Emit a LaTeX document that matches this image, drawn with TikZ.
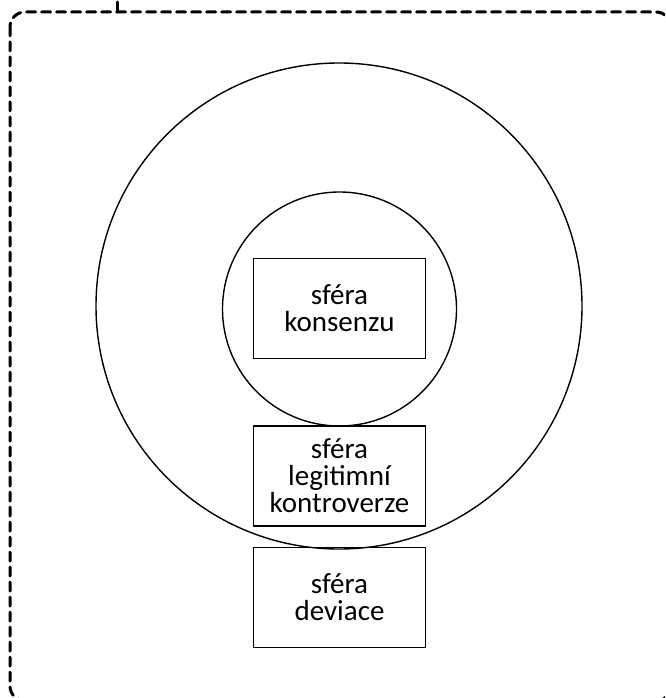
\documentclass[tikz,border=0pt]{standalone}
\usepackage{fontspec}
\setmainfont{Carlito}
\begin{document}
\begin{tikzpicture}[x=1pt,y=-1pt,
  frame/.style={line width=3pt, dash pattern=on 9pt off 6pt, line cap=round, rounded corners=15pt},
  ring/.style={circle, draw, line width=1.4pt, inner sep=0pt},
  sbox/.style={draw, line width=1.4pt, minimum width=172pt, minimum height=100pt, align=center, inner sep=0pt,
    font=\fontsize{29}{27}\selectfont}]
\clip (0,0) rectangle (665,698);
\draw[frame] (10,12) rectangle (671,701);
\coordinate (ntop) at (117,2);
\coordinate (nbot) at (117,12);
\draw[line width=3pt, line cap=round] (ntop) -- (nbot);
\node[ring, minimum size=486pt] (outer) at (339,306) {};
\node[ring, minimum size=234pt] (inner) at (339.5,309) {};
\node[sbox] (kons) at (339.5,308.5) {sféra\\konsenzu};
\node[sbox] (legit) at (339.5,476) {sféra\\legitimní\\kontroverze};
\node[sbox] (dev) at (339.5,597.5) {sféra\\deviace};
\end{tikzpicture}
\end{document}
